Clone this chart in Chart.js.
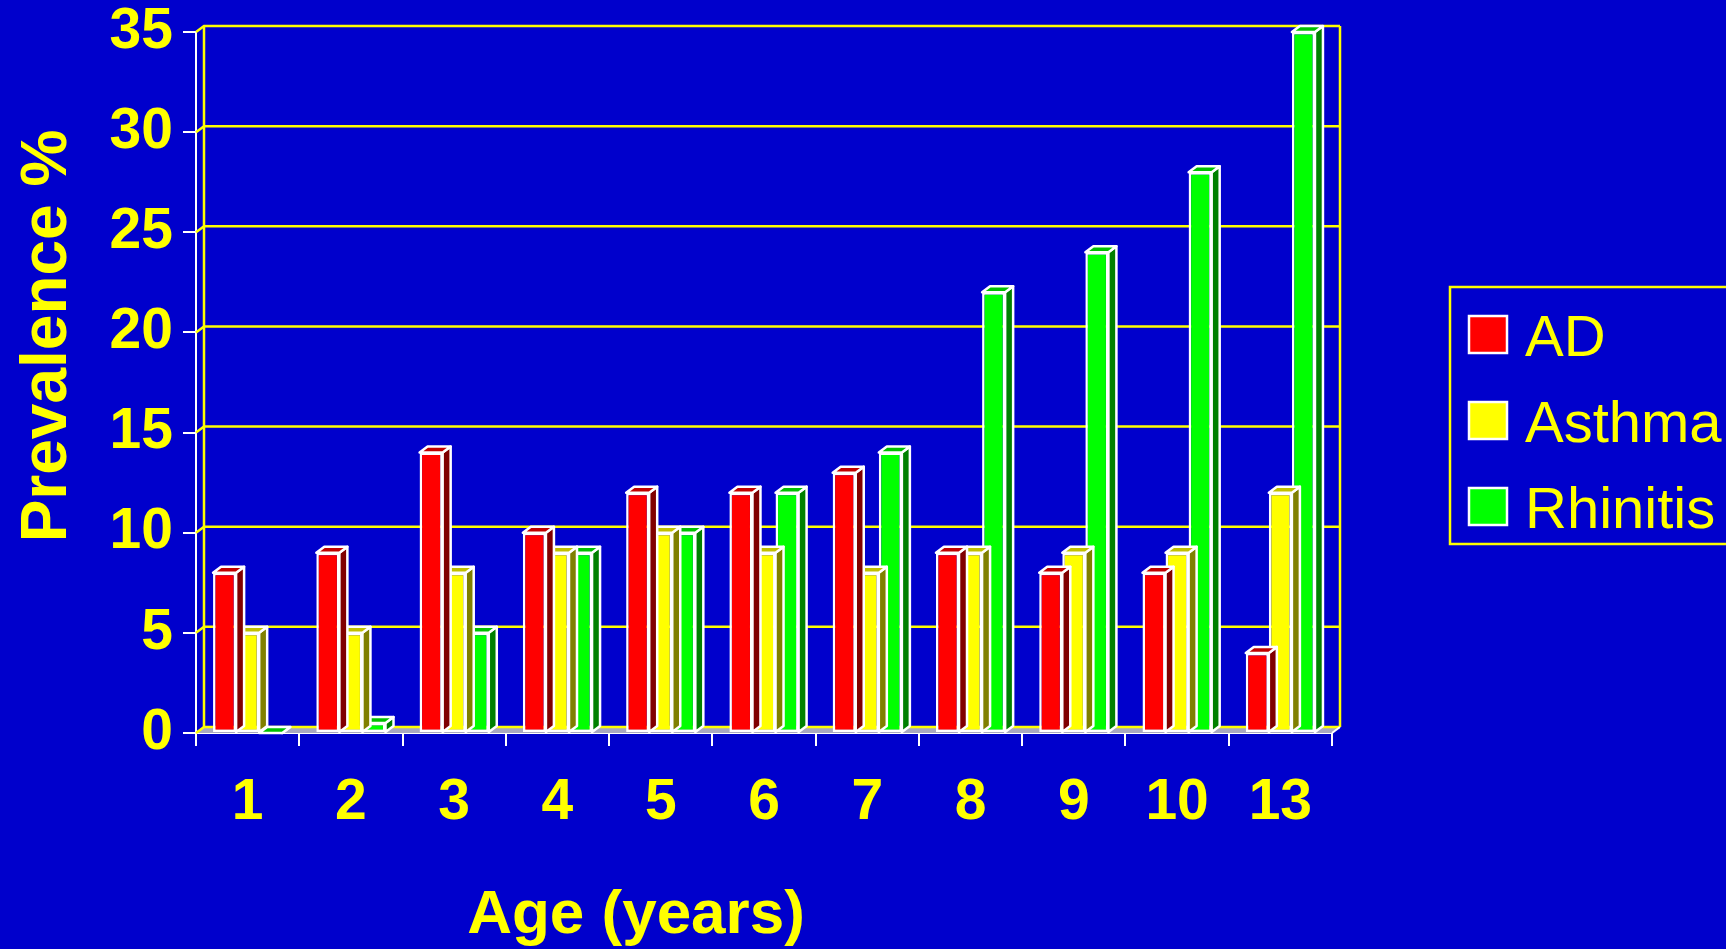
<!DOCTYPE html>
<html>
<head>
<meta charset="utf-8">
<title>Prevalence by age</title>
<script src="https://cdn.jsdelivr.net/npm/chart.js@4.4.1/dist/chart.umd.min.js"></script>
<style>
    html, body { margin: 0; padding: 0; background: #0000cc; overflow: hidden; }
    #contenedor { width: 1726px; height: 949px; }
</style>
</head>
<body>
<div id="contenedor"><canvas id="graficoPrevalencia" width="1726" height="949"></canvas></div>
<script>
// Datos
const edades = ['1', '2', '3', '4', '5', '6', '7', '8', '9', '10', '13'];
const valoresAD = [8, 9, 14, 10, 12, 12, 13, 9, 8, 8, 4];
const valoresAsma = [5, 5, 8, 9, 10, 9, 8, 9, 9, 9, 12];
const valoresRinitis = [0, 0.5, 5, 9, 10, 12, 14, 22, 24, 28, 35];
const nombresSeries = ['AD', 'Asthma', 'Rhinitis'];
const ticksY = [0, 5, 10, 15, 20, 25, 30, 35];

const AMARILLO = '#ffff00';
const FUENTE = '"Liberation Sans", Arial, Helvetica, sans-serif';

// colores: frente, techo, lateral
const colores = [
    { frente: '#ff0000', techo: '#c00000', lado: '#800000' },
    { frente: '#ffff00', techo: '#c0c000', lado: '#808000' },
    { frente: '#00ff00', techo: '#00c000', lado: '#008000' }
];

const DX = 8, DY = 6;  // profundidad del efecto 3D

function poligono(ctx, pts, relleno) {
    ctx.beginPath();
    ctx.moveTo(pts[0][0], pts[0][1]);
    for (let i = 1; i < pts.length; i++) ctx.lineTo(pts[i][0], pts[i][1]);
    ctx.closePath();
    ctx.fillStyle = relleno;
    ctx.fill();
    ctx.stroke();
}

// Plano de fondo con las lineas de la rejilla desplazadas
const planoFondo = {
    id: 'planoFondo',
    beforeDatasetsDraw(chart) {
        const { ctx, chartArea: a, scales: { y } } = chart;
        ctx.save();
        // suelo
        ctx.fillStyle = '#a8a8c0';
        ctx.beginPath();
        ctx.moveTo(a.left, a.bottom);
        ctx.lineTo(a.left + DX, a.bottom - DY);
        ctx.lineTo(a.right + DX, a.bottom - DY);
        ctx.lineTo(a.right, a.bottom);
        ctx.closePath();
        ctx.fill();

        ctx.strokeStyle = AMARILLO;
        ctx.lineWidth = 2.5;
        ticksY.forEach(v => {
            const py = y.getPixelForValue(v);
            ctx.beginPath();
            ctx.moveTo(a.left, py);
            ctx.lineTo(a.left + DX, py - DY);
            ctx.lineTo(a.right + DX, py - DY);
            ctx.stroke();
        });
        ctx.beginPath();
        ctx.moveTo(a.left + DX, a.top - DY);
        ctx.lineTo(a.left + DX, a.bottom - DY);
        ctx.moveTo(a.right + DX, a.top - DY);
        ctx.lineTo(a.right + DX, a.bottom - DY);
        ctx.stroke();

        ctx.strokeStyle = '#ffffff';
        ctx.lineWidth = 2;
        ctx.beginPath();
        ctx.moveTo(a.right, a.bottom);
        ctx.lineTo(a.right + DX, a.bottom - DY);
        ctx.stroke();
        ctx.restore();
    },
    // caras laterales y techo de cada barra antes de su frente
    beforeDatasetDraw(chart, args) {
        const { ctx } = chart;
        const c = colores[args.index];
        ctx.save();
        ctx.strokeStyle = '#ffffff';
        ctx.lineWidth = 2.5;
        ctx.lineJoin = 'round';
        args.meta.data.forEach(el => {
            const { x, y, base, width } = el.getProps(['x', 'y', 'base', 'width'], true);
            const izq = x - width / 2, der = x + width / 2;
            poligono(ctx, [[der, y], [der + DX, y - DY], [der + DX, base - DY], [der, base]], c.lado);
            poligono(ctx, [[izq, y], [izq + DX, y - DY], [der + DX, y - DY], [der, y]], c.techo);
        });
        ctx.restore();
    }
};

// Titulos de los ejes y leyenda con marco
const textosExtra = {
    id: 'textosExtra',
    afterDraw(chart) {
        const { ctx } = chart;
        ctx.save();
        ctx.fillStyle = AMARILLO;

        ctx.font = 'bold 62px ' + FUENTE;
        ctx.textAlign = 'center';
        ctx.textBaseline = 'alphabetic';
        ctx.fillText('Age (years)', 636, 933);

        ctx.translate(66, 336);
        ctx.rotate(-Math.PI / 2);
        ctx.font = 'bold 64px ' + FUENTE;
        ctx.fillText('Prevalence %', 0, 0);
        ctx.setTransform(1, 0, 0, 1, 0, 0);

        // leyenda
        ctx.strokeStyle = AMARILLO;
        ctx.lineWidth = 2.5;
        ctx.strokeRect(1450, 287, 300, 257);
        ctx.font = '58px ' + FUENTE;
        ctx.textAlign = 'left';
        chart.data.datasets.forEach((ds, i) => {
            const yy = 316 + i * 86;
            ctx.fillStyle = ds.backgroundColor;
            ctx.fillRect(1469, yy, 38, 37);
            ctx.strokeStyle = '#ffffff';
            ctx.lineWidth = 2.5;
            ctx.strokeRect(1469, yy, 38, 37);
            ctx.fillStyle = AMARILLO;
            ctx.fillText(ds.label, 1525, yy + 40);
        });
        ctx.restore();
    }
};

const datasets = [valoresAD, valoresAsma, valoresRinitis].map((valores, i) => ({
    label: nombresSeries[i],
    data: valores,
    backgroundColor: colores[i].frente,
    borderColor: '#ffffff',
    borderWidth: 2.5,
    borderSkipped: false,
    categoryPercentage: 0.67,
    barPercentage: 1.0
}));

const ctx = document.getElementById('graficoPrevalencia').getContext('2d');
new Chart(ctx, {
    type: 'bar',
    data: { labels: edades, datasets: datasets },
    options: {
        responsive: false,
        animation: false,
        devicePixelRatio: 1,
        layout: { padding: { top: 32, right: 394, bottom: 0, left: 0 } },
        plugins: {
            legend: { display: false },
            tooltip: { enabled: false }
        },
        scales: {
            x: {
                grid: {
                    offset: true,
                    drawOnChartArea: false,
                    color: '#ffffff',
                    lineWidth: 2,
                    tickLength: 13
                },
                border: { color: '#ffffff', width: 2 },
                ticks: {
                    color: AMARILLO,
                    font: { family: FUENTE, size: 57, weight: 'bold' },
                    padding: 23,
                    maxRotation: 0
                },
                afterFit(scale) {
                    scale.height = 216;
                    scale.paddingLeft = 0;
                    scale.paddingRight = 0;
                }
            },
            y: {
                min: 0,
                max: 35,
                grid: {
                    drawOnChartArea: false,
                    color: '#ffffff',
                    lineWidth: 2,
                    tickLength: 13
                },
                border: { color: '#ffffff', width: 2 },
                ticks: {
                    stepSize: 5,
                    color: AMARILLO,
                    font: { family: FUENTE, size: 57, weight: 'bold' },
                    padding: 10
                },
                afterFit(scale) {
                    scale.width = 196;
                    scale.paddingTop = 0;
                    scale.paddingBottom = 0;
                }
            }
        }
    },
    plugins: [planoFondo, textosExtra]
});
</script>
</body>
</html>
